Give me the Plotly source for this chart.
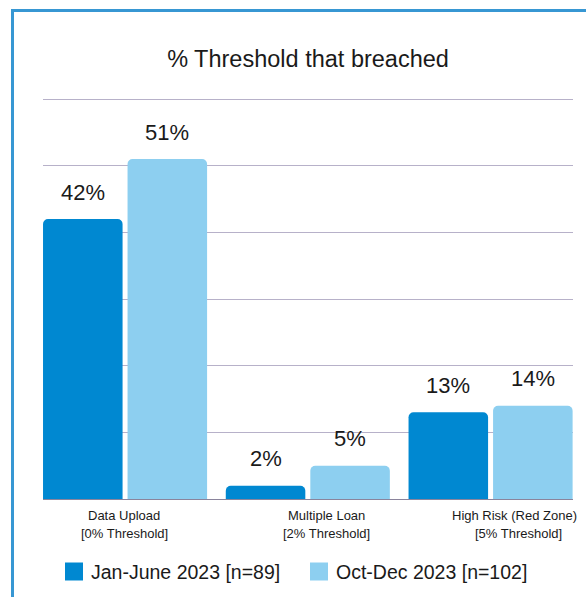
import plotly.graph_objects as go

# ---- data ----
categories = ["Data Upload", "Multiple Loan", "High Risk (Red Zone)"]
thresholds = ["[0% Threshold]", "[2% Threshold]", "[5% Threshold]"]
series_names = ["Jan-June 2023 [n=89]", "Oct-Dec 2023 [n=102]"]
jan_june = [42, 2, 13]
oct_dec = [51, 5, 14]

colors = ["#0088D1", "#8DCFF0"]
font_family = "Liberation Sans, Arial, sans-serif"
text_color = "#1a1a1a"

W, H = 586, 597
L, R, T, B = 43, 13, 92, 98
plot_w = W - L - R
plot_h = H - T - B
Y_TOP = 60 * plot_h / 400  # keeps 0..60 spanning 400px, with headroom for the top gridline

def px_x(p):
    return (p - L) / plot_w

def px_y(p):
    return (H - B - p) / plot_h

BARGAP = 0.075
BARGROUPGAP = 0.059
slot = (1 - BARGAP) / 2
offsets = [-slot / 2, slot / 2]

xs = list(range(len(categories)))

fig = go.Figure()
for name, vals, col in zip(series_names, [jan_june, oct_dec], colors):
    fig.add_trace(go.Bar(
        x=xs, y=vals, name=name, marker=dict(color=col, line=dict(width=0)),
        showlegend=False, hoverinfo="skip",
    ))

annotations = []
# value labels above each bar
for vals, off in zip([jan_june, oct_dec], offsets):
    for i, v in enumerate(vals):
        annotations.append(dict(
            x=i + off, y=v, xref="x", yref="y", text=f"{v}%",
            showarrow=False, yanchor="middle", yshift=27,
            font=dict(size=22, color=text_color, family=font_family),
        ))

# two-line category labels below the axis
line1_shift = [-1, 19, 24]
line2_shift = [-1, 19, 28]
for i, (c, t) in enumerate(zip(categories, thresholds)):
    annotations.append(dict(
        x=i, y=px_y(515.5), xref="x", yref="paper", text=c, showarrow=False,
        yanchor="middle", xshift=line1_shift[i],
        font=dict(size=13, color=text_color, family=font_family),
    ))
    annotations.append(dict(
        x=i, y=px_y(533.5), xref="x", yref="paper", text=t, showarrow=False,
        yanchor="middle", xshift=line2_shift[i],
        font=dict(size=13, color=text_color, family=font_family),
    ))

shapes = []
# legend swatches and labels
legend_x = [65, 310]
swatch = 18
legend_cy = 571.5
for name, col, lx in zip(series_names, colors, legend_x):
    shapes.append(dict(
        type="rect", xref="paper", yref="paper",
        x0=px_x(lx), x1=px_x(lx + swatch),
        y0=px_y(legend_cy - swatch / 2), y1=px_y(legend_cy + swatch / 2),
        fillcolor=col, line=dict(width=0),
    ))
    annotations.append(dict(
        x=px_x(lx + swatch + 6), y=px_y(legend_cy), xref="paper", yref="paper",
        text=name, showarrow=False, xanchor="left", yanchor="middle",
        font=dict(size=19.5, color=text_color, family=font_family),
    ))

# outer frame
shapes.append(dict(
    type="rect", xref="paper", yref="paper",
    x0=px_x(12.5), y0=px_y(10.5), x1=px_x(800), y1=px_y(800),
    line=dict(color="#3797D3", width=3), fillcolor="rgba(0,0,0,0)",
))

fig.update_layout(
    width=W, height=H,
    margin=dict(l=L, r=R, t=T, b=B),
    paper_bgcolor="white", plot_bgcolor="white",
    barmode="group", bargap=BARGAP, bargroupgap=BARGROUPGAP,
    barcornerradius=5,
    title=dict(
        text="% Threshold that breached", x=0.5, xref="paper",
        y=1 - 59 / H, yref="container", yanchor="middle",
        font=dict(size=23.5, color=text_color, family=font_family),
    ),
    xaxis=dict(
        range=[-0.449, 2.451], showgrid=False, zeroline=False,
        showticklabels=False, ticks="", showline=True,
        linecolor="#8A849C", linewidth=1, fixedrange=True,
    ),
    yaxis=dict(
        range=[0, Y_TOP], tickvals=[0, 10, 20, 30, 40, 50, 60],
        showgrid=True, gridcolor="#B7B1C9",
        gridwidth=1, zeroline=False, showticklabels=False, ticks="",
        fixedrange=True,
    ),
    annotations=annotations,
    shapes=shapes,
    showlegend=False,
    font=dict(family=font_family, color=text_color),
)

fig.write_html("out.html")
